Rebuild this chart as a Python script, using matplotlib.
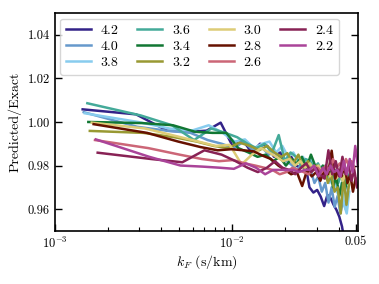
import numpy as np
import matplotlib
matplotlib.use("Agg")
import matplotlib.pyplot as plt

plt.rcParams['font.family'] = 'serif'
plt.rcParams['font.serif'] = ['cmr10', 'DejaVu Serif']
plt.rcParams['mathtext.fontset'] = 'cm'
plt.rcParams['axes.formatter.use_mathtext'] = True
plt.rcParams['axes.unicode_minus'] = False

labels = ['4.2', '4.0', '3.8', '3.6', '3.4', '3.2', '3.0', '2.8', '2.6', '2.4', '2.2']
colors = ['#332288', '#6699CC', '#88CCEE', '#44AA99', '#117733', '#999933',
          '#DDCC77', '#661100', '#CC6677', '#882255', '#AA4499']
# k-bin width (s/km), bins at k = n * dk
dk = [1.44e-3, 1.46e-3, 1.48e-3, 1.53e-3, 1.55e-3, 1.58e-3,
      1.62e-3, 1.66e-3, 1.69e-3, 1.75e-3, 1.71e-3]

r42 = [1.0058, 1.0035, 0.996, 0.9955, 0.996, 0.9997, 0.989, 0.9915, 0.986, 0.990,
       0.989, 0.984, 0.986, 0.982, 0.984, 0.980, 0.979, 0.981, 0.970, 0.9676,
       0.9688, 0.9657, 0.9614, 0.9665, 0.965, 0.962, 0.9596, 0.9565, 0.952, 0.945]
r40 = [1.0045, 0.9978, 0.9959, 0.995, 0.9917, 0.990, 0.988, 0.991, 0.987, 0.989,
       0.985, 0.986, 0.983, 0.982, 0.980, 0.978, 0.981, 0.976, 0.978, 0.972,
       0.975, 0.968, 0.972, 0.963, 0.970, 0.961, 0.966, 0.958, 0.964, 0.960, 0.970]
r38 = [1.004, 1.000, 0.997, 0.996, 0.9985, 0.995, 0.991, 0.992, 0.988, 0.990,
       0.991, 0.986, 0.989, 0.984, 0.986, 0.982, 0.984, 0.980, 0.983, 0.978,
       0.980, 0.975, 0.978, 0.972, 0.976, 0.970, 0.966, 0.972, 0.962, 0.958, 0.968]
r36 = [1.0086, 1.003, 0.9985, 0.9917, 0.997, 0.995, 0.993, 0.990, 0.988, 0.990,
       0.986, 0.994, 0.982, 0.986, 0.984, 0.980, 0.983, 0.982, 0.979, 0.981,
       0.976, 0.980, 0.977, 0.974, 0.978, 0.972, 0.976, 0.970, 0.974, 0.976]
r34 = [1.000, 0.9995, 0.9985, 0.9955, 0.995, 0.995, 0.988, 0.986, 0.984, 0.985,
       0.982, 0.984, 0.980, 0.983, 0.981, 0.984, 0.979, 0.985, 0.980, 0.977,
       0.980, 0.974, 0.978, 0.970, 0.975, 0.966, 0.972, 0.969, 0.974]
r32 = [0.9959, 0.995, 0.993, 0.991, 0.989, 0.988, 0.9905, 0.989, 0.987, 0.989,
       0.986, 0.984, 0.9857, 0.981, 0.985, 0.979, 0.982, 0.978, 0.980, 0.975,
       0.979, 0.972, 0.976, 0.968, 0.970, 0.958, 0.975, 0.962, 0.972]
r30 = [0.9997, 0.997, 0.9935, 0.991, 0.989, 0.9895, 0.9805, 0.985, 0.988, 0.986,
       0.984, 0.982, 0.983, 0.980, 0.982, 0.979, 0.981, 0.978, 0.980, 0.976,
       0.979, 0.975, 0.978, 0.974, 0.977, 0.973, 0.976, 0.972, 0.975]
r28 = [0.999, 0.995, 0.991, 0.9885, 0.987, 0.9875, 0.987, 0.9865, 0.9845, 0.983,
       0.980, 0.978, 0.976, 0.977, 0.9706, 0.978, 0.975, 0.977, 0.973, 0.978,
       0.976, 0.9868, 0.974, 0.978, 0.975, 0.980, 0.972, 0.976, 0.968, 0.974]
r26 = [0.9917, 0.988, 0.985, 0.983, 0.982, 0.9825, 0.981, 0.980, 0.979, 0.978,
       0.976, 0.977, 0.979, 0.978, 0.977, 0.976, 0.978, 0.979, 0.977, 0.980,
       0.978, 0.983, 0.979, 0.981, 0.978, 0.983, 0.980, 0.982, 0.979]
r24 = [0.9859, 0.983, 0.9815, 0.987, 0.985, 0.982, 0.979, 0.977, 0.979, 0.982,
       0.979, 0.978, 0.976, 0.979, 0.981, 0.977, 0.979, 0.976, 0.974, 0.987,
       0.976, 0.982, 0.975, 0.984, 0.976, 0.980, 0.973, 0.978, 0.970]
r22 = [0.992, 0.984, 0.980, 0.9795, 0.979, 0.9785, 0.981, 0.979, 0.976, 0.978,
       0.978, 0.978, 0.978, 0.977, 0.978, 0.978, 0.980, 0.975, 0.979, 0.976,
       0.980, 0.977, 0.978, 0.975, 0.982, 0.976, 0.983, 0.977, 0.989, 0.980]
ratios = [r42, r40, r38, r36, r34, r32, r30, r28, r26, r24, r22]

fig = plt.figure(figsize=(3.79, 2.84), dpi=100)
ax = fig.add_axes([0.144, 0.187, 0.801, 0.767])

for lab, col, d, r in zip(labels, colors, dk, ratios):
    k = d * np.arange(1, len(r) + 1)
    ax.plot(k, r, color=col, lw=1.8, label=lab)

ax.set_xscale('log')
ax.set_xlim(1e-3, 0.0515)
ax.set_ylim(0.95, 1.05)
ax.set_xticks([1e-3, 1e-2, 0.05])
ax.set_xticklabels([r'$10^{-3}$', r'$10^{-2}$', '0.05'])
ax.set_xticks([2e-3, 3e-3, 4e-3, 5e-3, 6e-3, 7e-3, 8e-3, 9e-3, 2e-2, 3e-2, 4e-2], minor=True)
ax.set_xticklabels([], minor=True)
ax.set_yticks([0.96, 0.98, 1.00, 1.02, 1.04])
ax.set_yticklabels(['0.96', '0.98', '1.00', '1.02', '1.04'])
ax.tick_params(axis='both', which='major', direction='in', length=5, width=1, labelsize=9)
ax.tick_params(axis='x', which='minor', direction='in', length=3, width=0.8)
ax.tick_params(axis='y', which='both', right=True)
for s in ax.spines.values():
    s.set_linewidth(1.2)

ax.set_xlabel(r'$k_F$ (s/km)', fontsize=10, labelpad=2)
ax.set_ylabel('Predicted/Exact', fontsize=10, labelpad=4)

ax.legend(ncol=4, loc='upper left', fontsize=10, handlelength=1.8,
          columnspacing=1.35, labelspacing=0.25, borderaxespad=0.4,
          handletextpad=0.7, frameon=True, fancybox=True)

fig.savefig('out.png', dpi=100)
